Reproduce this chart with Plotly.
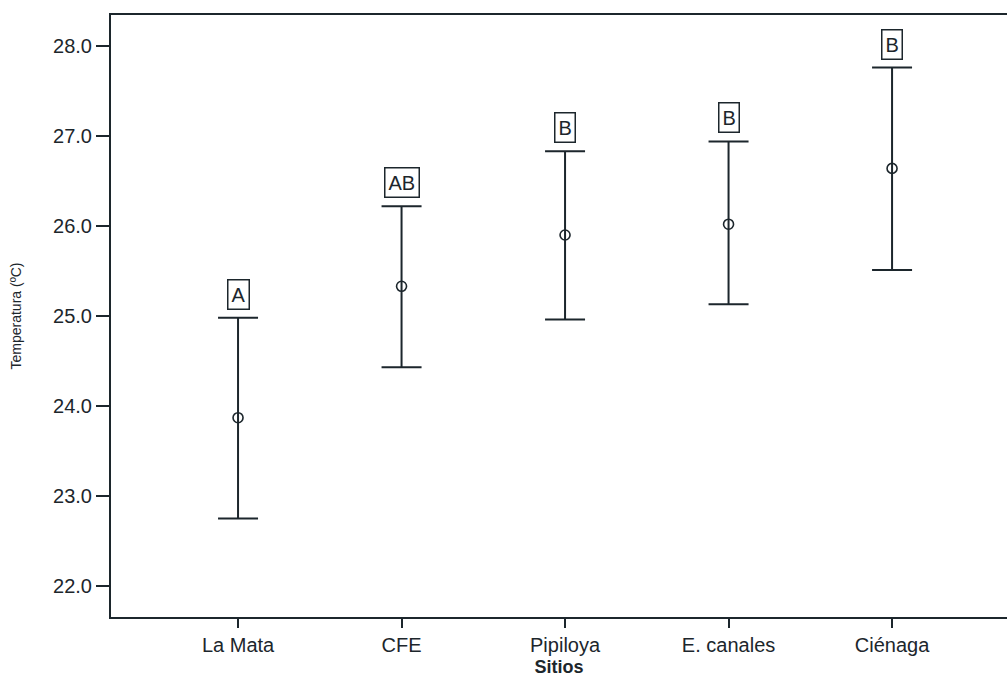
import plotly.graph_objects as go

sitios = ["La Mata", "CFE", "Pipiloya", "E. canales", "Ciénaga"]
media = [23.87, 25.33, 25.90, 26.02, 26.64]
superior = [24.98, 26.22, 26.83, 26.94, 27.76]
inferior = [22.75, 24.43, 24.96, 25.13, 25.51]
letras = ["A", "AB", "B", "B", "B"]
y_ticks = [22.0, 23.0, 24.0, 25.0, 26.0, 27.0, 28.0]

INK = "#1c262c"
FONT = "Liberation Sans, Arial, sans-serif"

fig = go.Figure()
fig.add_trace(go.Scatter(
    x=sitios,
    y=media,
    mode="markers",
    marker=dict(symbol="circle-open", size=10, color=INK, line=dict(width=1.6, color=INK)),
    error_y=dict(
        type="data",
        symmetric=False,
        array=[u - m for u, m in zip(superior, media)],
        arrayminus=[m - l for m, l in zip(media, inferior)],
        color=INK,
        thickness=2,
        width=20,
    ),
    showlegend=False,
    hoverinfo="skip",
))

for s, u, t in zip(sitios, superior, letras):
    fig.add_annotation(
        x=s, y=u, text=t, showarrow=False,
        yanchor="bottom", yshift=8,
        font=dict(family=FONT, size=20, color=INK),
        bordercolor=INK, borderwidth=1.5, borderpad=3,
        bgcolor="white",
    )

fig.update_layout(
    width=1007, height=677,
    margin=dict(l=111, r=0, t=15, b=60),
    paper_bgcolor="white",
    plot_bgcolor="white",
    font=dict(family=FONT, color=INK),
    xaxis=dict(
        range=[-0.777, 4.703],
        showgrid=False, zeroline=False,
        showline=True, linecolor=INK, linewidth=2, mirror=True,
        ticks="outside", ticklen=9, tickwidth=2, tickcolor=INK,
        tickfont=dict(family=FONT, size=20, color=INK),
        title=dict(text="<b>Sitios</b>", font=dict(family=FONT, size=18, color=INK), standoff=6),
    ),
    yaxis=dict(
        range=[21.656, 28.344],
        tickvals=y_ticks,
        tickformat=".1f",
        showgrid=False, zeroline=False,
        showline=True, linecolor=INK, linewidth=2,
        ticks="outside", ticklen=13, tickwidth=2, tickcolor=INK,
        tickfont=dict(family=FONT, size=20, color=INK),
        title=dict(text="Temperatura (ºC)", font=dict(family=FONT, size=14, color=INK), standoff=28),
    ),
)

fig.write_html("out.html")
